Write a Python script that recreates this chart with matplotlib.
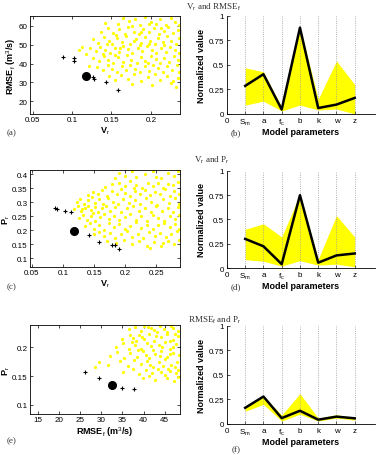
import matplotlib
matplotlib.use("Agg")
import matplotlib.pyplot as plt

plt.rcParams['font.family'] = ['Liberation Sans', 'DejaVu Sans']
plt.rcParams['mathtext.fontset'] = 'custom'
plt.rcParams['mathtext.rm'] = 'Liberation Sans'
plt.rcParams['mathtext.it'] = 'Liberation Sans'

YEL = '#ffff00'

# ---- (a) Vr vs RMSEf : sampled parameter sets (yellow) ----
cloud_a = [
    (0.158, 61), (0.165, 64), (0.172, 62.5), (0.18, 63.5), (0.186, 60.5), (0.193, 64.5),
    (0.2, 62), (0.207, 61), (0.212, 63.5), (0.219, 60.5), (0.225, 64), (0.231, 62),
    (0.236, 60.5), (0.176, 60), (0.197, 60.8), (0.142, 61.5),
    (0.137, 57), (0.146, 59), (0.152, 56), (0.16, 58.5), (0.167, 55.5), (0.171, 59.5),
    (0.178, 57), (0.185, 55.5), (0.19, 58.5), (0.198, 56.5), (0.204, 59), (0.21, 55.5),
    (0.216, 57.5), (0.222, 59.5), (0.228, 56), (0.234, 58), (0.156, 55.2), (0.188, 56.6),
    (0.213, 58.8),
    (0.126, 53), (0.133, 51), (0.14, 54), (0.147, 52), (0.151, 50.5), (0.157, 53.5),
    (0.163, 51.5), (0.169, 54.5), (0.174, 50.5), (0.181, 53), (0.187, 51), (0.192, 54),
    (0.199, 52), (0.205, 50.5), (0.209, 53.5), (0.215, 51.5), (0.221, 54.5), (0.226, 52),
    (0.232, 50.5), (0.236, 53.5), (0.144, 50.2), (0.178, 52.2), (0.197, 50.2),
    (0.123, 48), (0.13, 46.5), (0.135, 49), (0.142, 47), (0.148, 45.5), (0.154, 48.5),
    (0.159, 46), (0.165, 49.5), (0.171, 47.5), (0.176, 45.5), (0.183, 48.5), (0.189, 46.5),
    (0.195, 49.5), (0.201, 47), (0.207, 45.5), (0.213, 48), (0.219, 46), (0.224, 49),
    (0.23, 47), (0.235, 45.5), (0.139, 45.2), (0.161, 48), (0.186, 49.8), (0.217, 49.6),
    (0.127, 43), (0.134, 41.5), (0.141, 44), (0.146, 42), (0.152, 40.5), (0.158, 43.5),
    (0.164, 41), (0.17, 44.5), (0.175, 42), (0.182, 40.5), (0.188, 43.5), (0.193, 41.5),
    (0.2, 44), (0.206, 42.5), (0.211, 40.5), (0.217, 43), (0.223, 41), (0.229, 44),
    (0.234, 42), (0.155, 44.6), (0.196, 40.3),
    (0.132, 38), (0.139, 36.5), (0.145, 39), (0.151, 37), (0.157, 35.5), (0.163, 38.5),
    (0.169, 36.5), (0.174, 39.5), (0.18, 37), (0.186, 35.5), (0.192, 38.5), (0.198, 36),
    (0.203, 39), (0.209, 37.5), (0.215, 35.5), (0.221, 38.5), (0.227, 36.5), (0.233, 39),
    (0.236, 35.5),
    (0.147, 33.5), (0.155, 31.5), (0.162, 34), (0.171, 32), (0.179, 34.5), (0.188, 31),
    (0.196, 33), (0.205, 34.5), (0.212, 31.5), (0.22, 33.5), (0.228, 30.5), (0.234, 32.5),
    (0.176, 29), (0.201, 28.5), (0.226, 29.5), (0.232, 27.5),
    (0.112, 49), (0.118, 45), (0.121, 38.5), (0.109, 47),
]
front_a_v = [0.088, 0.103, 0.103, 0.126, 0.128, 0.143, 0.158]
front_a_r = [43.5, 43.2, 41.5, 33.0, 32.0, 30.0, 26.0]
best_a = (0.118, 33.5)

# ---- (c) Vr vs Pr ----
cloud_c = [
    (0.19, 0.405), (0.2, 0.395), (0.21, 0.41), (0.218, 0.39), (0.232, 0.4), (0.245, 0.412),
    (0.257, 0.385), (0.268, 0.405), (0.278, 0.395), (0.285, 0.41), (0.183, 0.385), (0.25, 0.39),
    (0.168, 0.355), (0.178, 0.365), (0.19, 0.37), (0.2, 0.358), (0.208, 0.375), (0.218, 0.362),
    (0.227, 0.352), (0.236, 0.37), (0.244, 0.358), (0.252, 0.368), (0.26, 0.352), (0.268, 0.366),
    (0.276, 0.36), (0.284, 0.372), (0.214, 0.352),
    (0.14, 0.325), (0.148, 0.338), (0.156, 0.33), (0.163, 0.345), (0.171, 0.322), (0.178, 0.34),
    (0.186, 0.328), (0.193, 0.348), (0.2, 0.333), (0.207, 0.322), (0.215, 0.341), (0.223, 0.329),
    (0.231, 0.345), (0.239, 0.325), (0.247, 0.338), (0.255, 0.33), (0.263, 0.346), (0.271, 0.323),
    (0.279, 0.339), (0.286, 0.328),
    (0.122, 0.3), (0.128, 0.312), (0.134, 0.295), (0.14, 0.308), (0.146, 0.318), (0.152, 0.298),
    (0.158, 0.31), (0.165, 0.293), (0.172, 0.315), (0.18, 0.302), (0.188, 0.292), (0.197, 0.312),
    (0.206, 0.298), (0.215, 0.308), (0.224, 0.292), (0.233, 0.316), (0.242, 0.3), (0.251, 0.29),
    (0.26, 0.31), (0.27, 0.296), (0.28, 0.314), (0.286, 0.293),
    (0.118, 0.275), (0.124, 0.285), (0.129, 0.268), (0.135, 0.28), (0.14, 0.288), (0.145, 0.272),
    (0.151, 0.283), (0.157, 0.265), (0.162, 0.278), (0.169, 0.287), (0.176, 0.27), (0.184, 0.282),
    (0.193, 0.266), (0.203, 0.278), (0.213, 0.288), (0.222, 0.27), (0.232, 0.28), (0.241, 0.265),
    (0.25, 0.285), (0.259, 0.27), (0.268, 0.28), (0.277, 0.266), (0.285, 0.283), (0.131, 0.276),
    (0.148, 0.262),
    (0.125, 0.245), (0.132, 0.255), (0.138, 0.238), (0.145, 0.25), (0.152, 0.232), (0.159, 0.248),
    (0.166, 0.258), (0.174, 0.24), (0.182, 0.252), (0.19, 0.235), (0.199, 0.247), (0.208, 0.258),
    (0.217, 0.238), (0.226, 0.25), (0.235, 0.233), (0.244, 0.255), (0.253, 0.242), (0.262, 0.232),
    (0.271, 0.252), (0.28, 0.24), (0.287, 0.256),
    (0.135, 0.215), (0.143, 0.225), (0.15, 0.205), (0.158, 0.218), (0.166, 0.202), (0.174, 0.226),
    (0.182, 0.21), (0.19, 0.222), (0.199, 0.204), (0.208, 0.216), (0.217, 0.228), (0.226, 0.207),
    (0.235, 0.22), (0.244, 0.203), (0.253, 0.218), (0.262, 0.226), (0.271, 0.21), (0.28, 0.222),
    (0.287, 0.205),
    (0.15, 0.185), (0.158, 0.195), (0.166, 0.178), (0.175, 0.19), (0.184, 0.172), (0.193, 0.185),
    (0.202, 0.196), (0.211, 0.176), (0.22, 0.188), (0.229, 0.172), (0.238, 0.194), (0.247, 0.18),
    (0.256, 0.19), (0.265, 0.174), (0.274, 0.186), (0.283, 0.198),
    (0.17, 0.162), (0.185, 0.155), (0.198, 0.165), (0.21, 0.15), (0.222, 0.16), (0.235, 0.145),
    (0.246, 0.158), (0.258, 0.142), (0.268, 0.162), (0.278, 0.15), (0.286, 0.165), (0.24, 0.135),
    (0.26, 0.155),
]
front_c_v = [0.088, 0.091, 0.103, 0.113, 0.142, 0.158, 0.178, 0.183, 0.19]
front_c_p = [0.278, 0.274, 0.268, 0.265, 0.183, 0.157, 0.148, 0.146, 0.134]
best_c = (0.117, 0.197)

# ---- (e) RMSEf vs Pr ----
cloud_e = [
    (36.5, 0.232), (38, 0.236), (39.5, 0.228), (41, 0.235), (42.5, 0.23), (44, 0.237),
    (45.5, 0.227), (47, 0.234), (48.2, 0.229), (40.2, 0.238), (43.3, 0.226),
    (35, 0.215), (36.8, 0.222), (38.3, 0.212), (39.7, 0.219), (41.2, 0.224), (42.6, 0.211),
    (44.1, 0.218), (45.6, 0.223), (47, 0.213), (48.3, 0.22), (37.5, 0.217), (46.2, 0.211),
    (33.5, 0.2), (35.2, 0.207), (36.6, 0.197), (38, 0.205), (39.4, 0.198), (40.8, 0.208),
    (42.2, 0.196), (43.6, 0.204), (45, 0.209), (46.4, 0.198), (47.8, 0.206), (44.3, 0.2),
    (37.2, 0.21),
    (32, 0.185), (33.8, 0.192), (35.4, 0.182), (36.9, 0.19), (38.4, 0.184), (39.9, 0.193),
    (41.3, 0.181), (42.7, 0.189), (44.2, 0.194), (45.6, 0.183), (47, 0.191), (48.4, 0.186),
    (40.6, 0.187),
    (29.5, 0.175), (31.5, 0.17), (34.5, 0.176), (36.2, 0.168), (37.8, 0.178), (39.3, 0.171),
    (40.8, 0.177), (42.3, 0.166), (43.8, 0.174), (45.2, 0.179), (46.6, 0.169), (48, 0.175),
    (44.7, 0.167),
    (28.5, 0.165), (35.2, 0.158), (37.4, 0.162), (39, 0.153), (40.5, 0.16), (42, 0.155),
    (43.5, 0.163), (45, 0.152), (46.4, 0.159), (47.8, 0.155), (41.3, 0.151), (44.2, 0.157),
    (39.8, 0.146), (42.8, 0.143), (45.6, 0.147), (47.3, 0.142), (48.2, 0.148),
    (41.8, 0.233), (44.8, 0.232), (46.5, 0.238), (39, 0.222), (43, 0.22), (47.6, 0.224),
    (41.8, 0.202), (46.9, 0.2), (43.9, 0.185), (46.3, 0.188), (41.5, 0.17), (47.4, 0.165),
    (45.8, 0.162), (48.3, 0.16), (38.6, 0.196), (40, 0.214),
]
front_e_r = [26.0, 29.5, 34.8, 37.8]
front_e_p = [0.158, 0.146, 0.130, 0.128]
best_e = (32.4, 0.134)

# ---- normalized parameter values ----
params = ['0', 'S$_m$', 'a', 'f$_c$', 'b', 'k', 'w', 'z']
best_b = [0.286, 0.405, 0.045, 0.88, 0.06, 0.095, 0.163]
upper_b = [0.47, 0.43, 0.07, 0.89, 0.15, 0.54, 0.30]
lower_b = [0.09, 0.13, 0.03, 0.09, 0.04, 0.05, 0.0]

best_d = [0.30, 0.224, 0.04, 0.75, 0.055, 0.13, 0.15]
upper_d = [0.40, 0.455, 0.32, 0.76, 0.09, 0.54, 0.32]
lower_d = [0.086, 0.07, 0.02, 0.076, 0.03, 0.04, 0.014]

best_f = [0.165, 0.28, 0.06, 0.135, 0.044, 0.075, 0.058]
upper_f = [0.18, 0.285, 0.09, 0.31, 0.06, 0.095, 0.065]
lower_f = [0.13, 0.20, 0.03, 0.10, 0.03, 0.06, 0.04]

TICK_FS = 5.8
LAB_FS = 6.5

fig = plt.figure(figsize=(3.84, 4.56), dpi=100)


def scatter_panel(rect, cloud, fx, fy, best, xlim, ylim, xticks, yticks, xtl, ytl, xlabel, ylabel):
    ax = fig.add_axes(rect)
    cx, cy = zip(*cloud)
    ax.plot(cx, cy, '.', color=YEL, ms=4.6, mew=0)
    ax.plot(fx, fy, '+', color='black', ms=3, mew=0.8)
    ax.plot(best[0], best[1], 'o', color='black', ms=5.5)
    ax.set_xlim(xlim)
    ax.set_ylim(ylim)
    ax.set_xticks(xticks)
    ax.set_xticklabels(xtl)
    ax.set_yticks(yticks)
    ax.set_yticklabels(ytl)
    ax.tick_params(direction='in', length=2, width=0.5, labelsize=TICK_FS, pad=1.5,
                   top=True, right=True)
    for s in ax.spines.values():
        s.set_linewidth(0.6)
    ax.set_xlabel(xlabel, fontsize=LAB_FS, fontweight='bold', labelpad=1)
    ax.set_ylabel(ylabel, fontsize=LAB_FS, fontweight='bold', labelpad=0.5)
    return ax


def param_panel(rect, best, upper, lower):
    ax = fig.add_axes(rect)
    xs = list(range(1, len(best) + 1))
    for x in xs:
        ax.plot([x, x], [0, 1], ':', color='#999999', lw=0.6)
    ax.fill_between(xs, lower, upper, color=YEL, lw=0)
    ax.plot(xs, best, color='black', lw=1.8)
    ax.set_xlim(0, 8.1)
    ax.set_ylim(0, 1)
    ax.set_xticks(range(len(params)))
    ax.set_xticklabels(params)
    ax.set_yticks([0, 0.25, 0.5, 0.75, 1])
    ax.set_yticklabels(['0', '0.25', '0.5', '0.75', '1'])
    ax.spines['top'].set_visible(False)
    ax.spines['right'].set_visible(False)
    for s in ax.spines.values():
        s.set_linewidth(0.6)
    ax.tick_params(direction='in', length=2, width=0.5, labelsize=TICK_FS, pad=2)
    ax.set_xlabel('Model parameters', fontsize=LAB_FS, fontweight='bold', labelpad=0)
    ax.set_ylabel('Normalized value', fontsize=LAB_FS, fontweight='bold', labelpad=2)
    return ax


LX, LW = 0.078, 0.391
RX, RW = 0.591, 0.385

scatter_panel([LX, 0.748, LW, 0.215], cloud_a, front_a_v, front_a_r, best_a,
              (0.0466, 0.237), (13.3, 65.3),
              [0.05, 0.1, 0.15, 0.2], [20, 30, 40, 50, 60],
              ['0.05', '0.1', '0.15', '0.2'], ['20', '30', '40', '50', '60'],
              'V$_r$', 'RMSE$_f$ (m$^3$/s)')
scatter_panel([LX, 0.412, LW, 0.213], cloud_c, front_c_v, front_c_p, best_c,
              (0.047, 0.288), (0.068, 0.415),
              [0.05, 0.1, 0.15, 0.2, 0.25], [0.1, 0.15, 0.2, 0.25, 0.3, 0.35, 0.4],
              ['0.05', '0.1', '0.15', '0.2', '0.25'],
              ['0.1', '0.15', '0.2', '0.25', '0.3', '0.35', '0.4'],
              'V$_r$', 'P$_r$')
scatter_panel([LX, 0.090, LW, 0.195], cloud_e, front_e_r, front_e_p, best_e,
              (13, 48.7), (0.084, 0.239),
              [15, 20, 25, 30, 35, 40, 45], [0.1, 0.15, 0.2],
              ['15', '20', '25', '30', '35', '40', '45'], ['0.1', '0.15', '0.2'],
              'RMSE$_f$ (m$^3$/s)', 'P$_r$')

param_panel([RX, 0.748, RW, 0.215], best_b, upper_b, lower_b)
param_panel([RX, 0.410, RW, 0.213], best_d, upper_d, lower_d)
param_panel([RX, 0.068, RW, 0.215], best_f, upper_f, lower_f)

serif = dict(family=['Liberation Serif', 'DejaVu Serif'], fontsize=6.5, color='#333333')
fig.text(213 / 384, 1 - 7 / 456, 'V$_r$ and RMSE$_f$', ha='center', va='center', **serif)
fig.text(212 / 384, 1 - 160 / 456, 'V$_r$ and P$_r$', ha='center', va='center', **serif)
fig.text(215 / 384, 1 - 320 / 456, 'RMSE$_f$ and P$_r$', ha='center', va='center', **serif)

for lab, x, y in [('(a)', 12, 133), ('(b)', 236, 133), ('(c)', 12, 287),
                  ('(d)', 236, 287), ('(e)', 12, 441), ('(f)', 236, 450)]:
    fig.text(x / 384, 1 - y / 456, lab, ha='center', va='center', **serif)

fig.savefig('out.png', dpi=100)
